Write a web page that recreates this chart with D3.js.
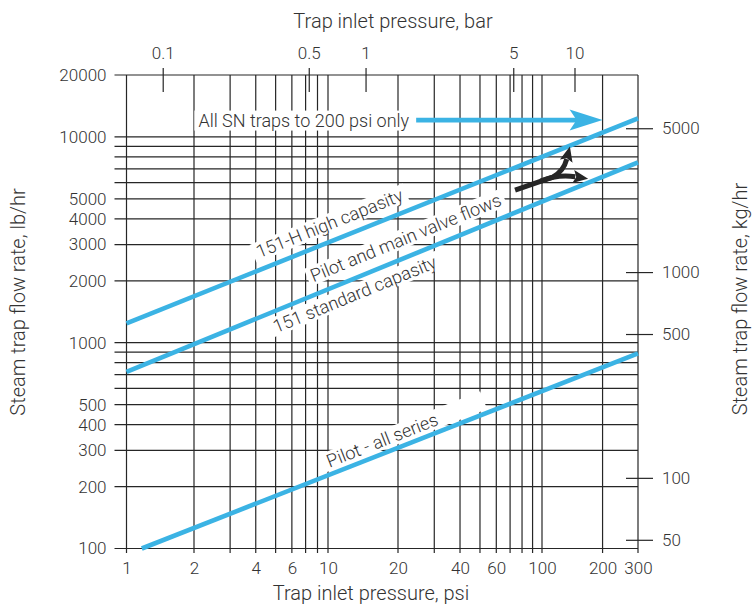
<!DOCTYPE html>
<html>
<head>
<meta charset="utf-8">
<script src="https://cdn.jsdelivr.net/npm/d3@7"></script>
<style>
  body { margin: 0; background: #fff; }
  svg text { font-family: Roboto, "DejaVu Sans", sans-serif; font-weight: 300; fill: #333; }
</style>
</head>
<body>
<svg id="chart" width="753" height="607"></svg>
<script>
// grid + tick values
const psiGrid = [2, 3, 4, 5, 6, 7, 8, 10, 20, 30, 40, 50, 60, 70, 80, 90, 100, 200];
const psiTicks = [1, 2, 4, 6, 10, 20, 40, 60, 100, 200, 300];
const barTicks = [0.1, 0.5, 1, 5, 10];
const flowGrid = [200, 300, 400, 500, 600, 700, 800, 900, 1000, 2000, 3000, 4000, 5000, 6000, 7000, 8000, 9000, 10000];
const flowTicks = [100, 200, 300, 400, 500, 1000, 2000, 3000, 4000, 5000, 10000, 20000];
const kgTicks = [50, 100, 500, 1000, 5000];

// series, [psi, lb/hr]
const highCap = [[1, 1243], [300, 12315]];
const stdCap = [[1, 722], [300, 7525]];
const pilotAll = [[1.17, 100], [300, 888]];

// "All SN traps" arrow
const snFrom = 24.5, snTo = 200, snFlow = 12077;

const PSI_PER_BAR = 14.5038;
const LB_PER_KG = 2.20462;
const BLUE = "#3bb3e4";
const INK = "#262626";

const svg = d3.select("#chart");

// the printed chart's x grid is not quite a clean log, so piecewise log
const x = d3.scaleLog()
  .domain([1, 2, 8, 10, 20, 100, 300])
  .range([126.5, 194, 317.5, 328, 398, 542, 638]);
const y = d3.scaleLog().domain([100, 20000]).range([548.5, 75]);
const xBar = d3.scaleLog().domain(x.domain().map(d => d / PSI_PER_BAR)).range(x.range());
const yKg = d3.scaleLog().domain(y.domain().map(d => d / LB_PER_KG)).range(y.range());

const x0 = x(1), x1 = x(300), yTop = y(20000), yBot = y(100);

// gridlines
const grid = svg.append("g").attr("stroke", INK).attr("stroke-width", 1.2);
grid.selectAll(".vg").data(psiGrid.concat([1, 300])).enter().append("line")
  .attr("x1", d => x(d)).attr("x2", d => x(d))
  .attr("y1", yTop).attr("y2", yBot + 4.5);
grid.selectAll(".hg").data(flowGrid.concat([100, 20000])).enter().append("line")
  .attr("x1", x0 - 12).attr("x2", x1)
  .attr("y1", d => y(d)).attr("y2", d => y(d));

function linePt(s, psi) {
  const ax = x(s[0][0]), ay = y(s[0][1]), bx = x(s[1][0]), by = y(s[1][1]);
  const px = x(psi);
  return [px, ay + (by - ay) * (px - ax) / (bx - ax)];
}
function lineAngle(s) {
  const ax = x(s[0][0]), ay = y(s[0][1]), bx = x(s[1][0]), by = y(s[1][1]);
  return Math.atan2(by - ay, bx - ax) * 180 / Math.PI;
}

// label backgrounds + text
const bgLayer = svg.append("g");
const lineLayer = svg.append("g");
const textLayer = svg.append("g");

const lineLabels = [
  { text: "151-H high capasity", series: highCap, psi: 4.35, off: -11, padR: 4 },
  { text: "Pilot and main valve flows", series: stdCap, psi: 8.1, off: -12, padR: 4 },
  { text: "151 standard capasity", series: stdCap, psi: 4.6, off: 21, padR: 4 },
  { text: "Pilot - all series", series: pilotAll, psi: 10.4, off: -6.5, padR: 50 }
];

lineLabels.forEach(l => {
  const p = linePt(l.series, l.psi);
  const a = lineAngle(l.series);
  const tr = `translate(${p[0]},${p[1]}) rotate(${a}) translate(0,${l.off})`;
  const t = textLayer.append("text").attr("transform", tr)
    .attr("font-size", 18).text(l.text);
  const bb = t.node().getBBox();
  bgLayer.append("rect").attr("transform", tr)
    .attr("x", bb.x - 4).attr("y", bb.y + 1)
    .attr("width", bb.width + 4 + l.padR).attr("height", bb.height - 2)
    .attr("fill", "#fff");
});

// SN arrow label
const snY = y(snFlow);
const snText = textLayer.append("text")
  .attr("x", x(snFrom) - 7).attr("y", snY + 6.5)
  .attr("text-anchor", "end").attr("font-size", 18)
  .text("All SN traps to 200 psi only");
const snBB = snText.node().getBBox();
bgLayer.append("rect")
  .attr("x", snBB.x - 4).attr("y", snBB.y + 1)
  .attr("width", snBB.width + 8).attr("height", snBB.height - 1)
  .attr("fill", "#fff");

// blue lines
const lineGen = d3.line().x(d => x(d[0])).y(d => y(d[1]));
lineLayer.selectAll(".series").data([highCap, stdCap, pilotAll]).enter().append("path")
  .attr("d", lineGen).attr("fill", "none")
  .attr("stroke", BLUE).attr("stroke-width", 4.6);

// SN arrow
const tipX = x(snTo);
lineLayer.append("line")
  .attr("x1", x(snFrom)).attr("x2", tipX - 24)
  .attr("y1", snY).attr("y2", snY)
  .attr("stroke", BLUE).attr("stroke-width", 4.6);
lineLayer.append("path")
  .attr("d", `M${tipX},${snY} L${tipX - 33},${snY - 10.5} L${tipX - 26},${snY} L${tipX - 33},${snY + 10.5} Z`)
  .attr("fill", BLUE);

// black fork arrow: tail -> fork -> two tips on the lines
const forkTail = [74, 5520], forkMid = [113, 6380];
const tipHigh = linePt(highCap, 138), tipStd = linePt(stdCap, 169);
const tail = [x(forkTail[0]), y(forkTail[1])], mid = [x(forkMid[0]), y(forkMid[1])];

svg.append("defs").append("marker")
  .attr("id", "ah").attr("markerUnits", "userSpaceOnUse")
  .attr("markerWidth", 20).attr("markerHeight", 20)
  .attr("refX", 2).attr("refY", 0).attr("orient", "auto")
  .attr("viewBox", "0 -10 20 20")
  .append("path").attr("d", "M0,-6.5 L15,0 L0,6.5 L3,0 Z").attr("fill", INK);

function shortTo(c, t, d) {
  const dx = t[0] - c[0], dy = t[1] - c[1], L = Math.hypot(dx, dy);
  return [t[0] - dx / L * d, t[1] - dy / L * d];
}
const c1 = [mid[0] + 11, mid[1] - 6];
const e1 = shortTo(c1, tipHigh, 14);
const p1 = d3.path();
p1.moveTo(tail[0], tail[1]);
p1.lineTo(mid[0], mid[1]);
p1.quadraticCurveTo(c1[0], c1[1], e1[0], e1[1]);
const c2 = [mid[0] + 5, mid[1] - 3];
const e2 = shortTo([c2[0] + 12, c2[1]], tipStd, 14);
const p2 = d3.path();
p2.moveTo(mid[0] - 12, mid[1] + 4);
p2.quadraticCurveTo(c2[0], c2[1], e2[0], e2[1]);
[p1, p2].forEach(p => lineLayer.append("path")
  .attr("d", p.toString()).attr("fill", "none")
  .attr("stroke", INK).attr("stroke-width", 5)
  .attr("marker-end", "url(#ah)"));

// axes (labels, plus crossing ticks on top and right)
function styleAxis(g, size) {
  g.select(".domain").remove();
  g.selectAll("text").attr("font-size", size).attr("fill", "#333");
  g.selectAll(".tick line").attr("stroke", INK).attr("stroke-width", 1.2);
  g.attr("font-family", null);
}

svg.append("g").attr("transform", `translate(${x0},0)`)
  .call(d3.axisLeft(y).tickValues(flowTicks).tickFormat(d3.format("d")).tickSize(0).tickPadding(20))
  .call(g => styleAxis(g, 17));

svg.append("g").attr("transform", `translate(0,${yBot})`)
  .call(d3.axisBottom(x).tickValues(psiTicks).tickFormat(d3.format("d")).tickSize(0).tickPadding(13))
  .call(g => styleAxis(g, 17));

svg.append("g").attr("transform", `translate(0,${yTop + 17})`)
  .call(d3.axisTop(xBar).tickValues(barTicks).tickFormat(d => String(d)).tickSize(24).tickPadding(9))
  .call(g => styleAxis(g, 17));

svg.append("g").attr("transform", `translate(${x1 - 12},0)`)
  .call(d3.axisRight(yKg).tickValues(kgTicks).tickFormat(d3.format("d")).tickSize(27).tickPadding(9))
  .call(g => styleAxis(g, 17));

// titles
svg.append("text").attr("x", 393).attr("y", 28).attr("text-anchor", "middle")
  .attr("font-size", 20).text("Trap inlet pressure, bar");
svg.append("text").attr("x", 371).attr("y", 600).attr("text-anchor", "middle")
  .attr("font-size", 20).text("Trap inlet pressure, psi");
svg.append("text").attr("transform", "translate(25,302) rotate(-90)").attr("text-anchor", "middle")
  .attr("font-size", 20).text("Steam trap flow rate, lb/hr");
svg.append("text").attr("transform", "translate(747,299) rotate(-90)").attr("text-anchor", "middle")
  .attr("font-size", 20).text("Steam trap flow rate, kg/hr");
</script>
</body>
</html>
